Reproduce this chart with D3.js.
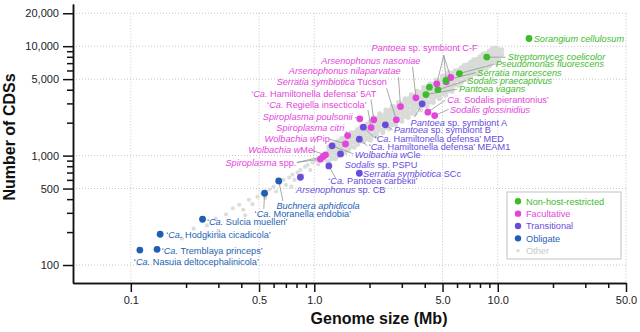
<!DOCTYPE html>
<html>
<head>
<meta charset="utf-8">
<script src="https://cdn.jsdelivr.net/npm/d3@7"></script>
<style>
  body { margin: 0; background: #fff; }
  svg { font-family: "Liberation Sans", Arial, sans-serif; }
</style>
</head>
<body>
<svg id="chart" width="640" height="332"></svg>
<script>
// Categories of lifestyle, in legend order
const groups = ["Non-host-restricted", "Facultative", "Transitional", "Obligate", "Other"];
const groupColors = ["#3dbb2a", "#e444dc", "#6a4cdc", "#1f5fb3", "#d8dbd8"];

// Tick values
const xTicks = [0.1, 0.5, 1, 5, 10, 50];
const xMinor = [0.2, 0.3, 0.4, 0.6, 0.7, 0.8, 0.9, 2, 3, 4, 6, 7, 8, 9, 20, 30, 40];
const yTicks = [100, 500, 1000, 5000, 10000, 20000];
const yMinor = [200, 300, 400, 600, 700, 800, 900, 2000, 3000, 4000, 6000, 7000, 8000, 9000];

// Highlighted genomes: key, genome size (Mb), number of CDSs, group index
const hostKey = ["cf", "cf", "cf", "anas", "anil", "tucson", "h5at", "regiella", "poulsonii", "citri",
  "wpip", "wmel", "spp", "spp", "spier", "sgloss",
  "pantA", "pantB", "med", "meam1", "wcle", "pspu", "scc", "carbekii", "arscb",
  "buchnera", "moranella", "sulcia", "hodgkinia", "tremblaya", "nasuia",
  "sorangium", "strepto", "pseudo", "smarc", "spraec", "pvagans", "green7"];
const hostSize = [4.65, 5.235, 5.54, 3.58, 2.95, 2.80, 2.11, 2.04, 1.77, 1.52,
  1.48, 1.151, 1.08, 1.118, 4.16, 4.53,
  3.87, 2.44, 1.85, 1.76, 1.25, 1.39, 1.76, 1.20, 0.84,
  0.64, 0.536, 0.246, 0.1445, 0.139, 0.112,
  14.8, 8.71, 6.18, 5.22, 4.72, 4.06, 4.24];
const hostCds = [4529, 4723, 5172, 3373, 2808, 2122, 2122, 1805, 2167, 1524,
  1279, 1016, 927, 979, 2495, 2323,
  2972, 1910, 1820, 1413, 1228, 1036, 690, 805, 634,
  587, 453, 262, 191, 139, 137,
  11760, 7950, 5625, 4876, 3990, 3614, 4224];
const hostGroup = [1, 1, 1, 1, 1, 1, 1, 1, 1, 1,
  1, 1, 1, 1, 1, 1,
  2, 2, 2, 2, 2, 2, 2, 2, 2,
  3, 3, 3, 3, 3, 3,
  0, 0, 0, 0, 0, 0, 0];

// Label texts (_..._ marks italic)
const labelText = {
  sorangium: "_Sorangium cellulosum_",
  strepto: "_Streptomyces coelicolor_",
  pseudo: "_Pseudomonas fluorescens_",
  smarc: "_Serratia marcescens_",
  spraec: "_Sodalis praecaptivus_",
  pvagans: "_Pantoea vagans_",
  cf: "_Pantoea_ sp. symbiont C-F",
  anas: "_Arsenophonus nasoniae_",
  anil: "_Arsenophonus nilaparvatae_",
  tucson: "_Serratia symbiotica_ Tucson",
  h5at: "‘_Ca._ Hamiltonella defensa’ 5AT",
  regiella: "‘_Ca._ Regiella insecticola’",
  poulsonii: "_Spiroplasma poulsonii_",
  citri: "_Spiroplasma citri_",
  wpip: "_Wolbachia w_Pip",
  wmel: "_Wolbachia w_Mel",
  spp: "_Spiroplasma_ spp.",
  spier: "_Ca._ Sodalis pierantonius’",
  sgloss: "_Sodalis glossinidius_",
  pantA: "_Pantoea_ sp. symbiont A",
  pantB: "_Pantoea_ sp. symbiont B",
  med: "‘_Ca._ Hamiltonella defensa’ MED",
  meam1: "‘_Ca._ Hamiltonella defensa’ MEAM1",
  wcle: "_Wolbachia w_Cle",
  pspu: "_Sodalis_ sp. PSPU",
  scc: "_Serratia symbiotica_ SCc",
  carbekii: "‘_Ca._ Pantoea carbekii’",
  arscb: "_Arsenophonus_ sp. CB",
  buchnera: "_Buchnera aphidicola_",
  moranella: "‘_Ca._ Moranella endobia’",
  sulcia: "‘_Ca._ Sulcia muelleri’",
  hodgkinia: "‘_Ca._ Hodgkinia cicadicola’",
  tremblaya: "‘_Ca._ Tremblaya princeps’",
  nasuia: "‘_Ca._ Nasuia deltocephalinicola’"
};

// "Other" genomes, sparse small ones: [size Mb, CDSs]
const otherSparse = [[0.19,175],[0.22,215],[0.26,230],[0.29,265],[0.30,205],[0.33,290],[0.36,330],
  [0.39,355],[0.41,320],[0.42,285],[0.44,395],[0.46,360],[0.49,420],[0.52,455],[0.54,410],
  [0.57,490],[0.60,520],[0.62,470],[0.65,560],[0.68,600],[0.70,540],[0.73,630],[0.75,520],
  [0.76,670],[0.78,600],[0.81,700],[0.84,740],[0.86,660],[0.89,790],[0.92,820],[0.95,740],
  [0.98,860],[1.02,900],[1.05,830],[1.09,950],[1.13,990],[1.16,900]];
// "Other" genomes in the dense band: [size Mb, CDSs of genomes of about that size...]
const otherBand = [
  [1.20,888,996,1098,1200],[1.25,950,1056,1163,1269],[1.30,943,1053,1170,1281],
  [1.35,999,1121,1235,1350],[1.41,1072,1191,1311,1431],[1.47,1066,1191,1323,1448],
  [1.53,1132,1270,1400,1530],[1.59,1208,1344,1479,1614],[1.65,1196,1337,1485,1625],
  [1.72,1273,1428,1574,1720],[1.79,1360,1513,1665,1817],[1.86,1349,1507,1674,1832],
  [1.94,1436,1610,1775,1940],[2.02,1390,1535,1707,1879,2050],[2.10,1523,1701,1890,2069,2226],
  [2.18,1504,1613,1809,1995,2180],[2.27,1725,1918,2111,2304,2406],[2.36,1628,1711,1912,2124,2325],
  [2.46,1820,2042,2251,2460,2608],[2.56,1766,1946,2163,2381,2598],[2.66,1929,2155,2394,2620,2820],
  [2.77,1911,2050,2299,2535,2770],[2.88,2189,2434,2678,2923,3053],[3.00,2070,2175,2430,2700,2955],
  [3.12,2309,2590,2855,3120,3307],[3.25,2243,2470,2746,3023,3299],[3.38,2451,2738,3042,3329,3583],
  [3.51,2422,2597,2913,3212,3510],[3.65,2774,3084,3395,3705,3869],[3.80,2622,2755,3078,3420,3743],
  [3.95,2923,3279,3614,3950,4187],[4.11,2836,3124,3473,3822,4172],[4.28,3103,3467,3852,4216,4537],
  [4.45,3071,3293,3694,4072,4450],[4.63,3519,3912,4306,4699,4908],[4.81,3319,3487,3896,4329,4738],
  [5.00,3700,4150,4575,5000,5300],[5.20,3588,3952,4394,4836,5278],[5.41,3922,4382,4869,5329,5735],
  [5.63,3885,4166,4673,5151,5630],[5.85,4446,4943,5441,5938],[6.09,4415,4933,5481,5999],
  [6.33,4684,5254,5792,6330],[6.58,5001,5560,6119,6679],[6.85,4966,5549,6165,6747],
  [7.12,5269,5910,6515,7120],[7.41,5632,6261,6891,7521],[7.70,5583,6237,6930,7585],
  [8.01,5927,6648,7329,8010],[8.33,6331,7039,7747,8455],[8.67,6286,7023,7803,8540],
  [9.01,6667,7478,8244,9010],[9.37,7121,7918,8714,9511],[9.75,7069,7898,8775,9604],
  [10.1,7474,8383,9242],[10.5,8400,9240]];

// Label placement: [text dx, text dy, leader dx, leader dy] from the key's first point (px)
const labelPos = {
  sorangium: [4.7, 3.3], strepto: [21, 3.2, 19, 0.2], pseudo: [36.3, -6.2, 34.3, -9.2],
  smarc: [31.4, -4.5, 29.7, -7.7], spraec: [29.4, -6, 27.7, -9.2], pvagans: [33, -2.2, 31.2, -5.4],
  cf: [-65.3, -32.5, 7, -28.5], anas: [-94.6, -34.2, -3.3, -31], anil: [-111.7, -32.2, -2, -29.2],
  tucson: [-119.7, -34.5, -9.7, -31.5], h5at: [-122.6, -23.2, -2.8, -20.5],
  regiella: [-104, -19.2, -3.2, -17.7], poulsonii: [-97, 1.2, -4.8, -1.5],
  citri: [-71.3, -4.9, -1.8, -4.7], wpip: [-81, -2.2, -16.8, -5], wmel: [-77.3, -1.8, -13.5, -4.5],
  spp: [-95, 6.5, -23.5, 3.2], spier: [19.4, -8.8, 17.7, -12.3], sgloss: [15.3, -2.9, 14, -6.2],
  pantA: [-11.5, 22.2, -7.5, 13.5], pantB: [8.6, 8.5, 7.3, 5], med: [11.3, 14.5, 10.3, 9.7],
  meam1: [9.3, 10.7, 8, 6.7], wcle: [22.6, 12.5, 21.3, 8], pspu: [4.3, 13.8], scc: [3.7, 3.5],
  carbekii: [-0.6, 18.5, 6.7, 12], arscb: [-4.3, 15.5], buchnera: [-2.3, 28.2, 4.2, 20],
  moranella: [-10, 23.5, -0.8, 15.7], sulcia: [4.4, 5.9], hodgkinia: [6, 3.5],
  tremblaya: [4.6, 4.2], nasuia: [-6, 15]
};

const svg = d3.select("#chart");
const plotLeft = 73, plotRight = 626, plotTop = 4, plotBottom = 283;

const x = d3.scaleLog().domain([0.0484, 50]).range([plotLeft, plotRight]);
const y = d3.scaleLog().domain([68.5, 24300]).range([plotBottom, plotTop]);

// dotted grid
svg.append("g").selectAll("line").data(yTicks).join("line")
  .attr("x1", plotLeft).attr("x2", plotRight)
  .attr("y1", d => y(d)).attr("y2", d => y(d))
  .attr("stroke", "#c6c6c6").attr("stroke-dasharray", "1,2");
svg.append("g").selectAll("line").data(xTicks).join("line")
  .attr("x1", d => x(d)).attr("x2", d => x(d))
  .attr("y1", y(20000)).attr("y2", plotBottom)
  .attr("stroke", "#c6c6c6").attr("stroke-dasharray", "1,2");

// axes
function styleAxis(g) {
  g.attr("font-family", "Liberation Sans, Arial, sans-serif").attr("font-size", 11);
  g.selectAll("path, line").attr("stroke", "#111").attr("stroke-width", 1.5);
  g.selectAll("text").attr("fill", "#222");
}
svg.append("g").attr("transform", "translate(0," + plotBottom + ")")
  .call(d3.axisBottom(x).tickValues(xMinor).tickSize(5).tickSizeOuter(0).tickFormat(""))
  .call(styleAxis);
svg.append("g").attr("transform", "translate(0," + plotBottom + ")")
  .call(d3.axisBottom(x).tickValues(xTicks).tickSize(9).tickSizeOuter(0).tickPadding(4)
    .tickFormat(d3.format(".1f")))
  .call(styleAxis);
svg.append("g").attr("transform", "translate(" + plotLeft + ",0)")
  .call(d3.axisLeft(y).tickValues(yMinor).tickSize(6).tickSizeOuter(0).tickFormat(""))
  .call(styleAxis);
svg.append("g").attr("transform", "translate(" + plotLeft + ",0)")
  .call(d3.axisLeft(y).tickValues(yTicks).tickSize(10).tickSizeOuter(0).tickPadding(4)
    .tickFormat(d3.format(",")))
  .call(styleAxis);

// axis titles
svg.append("text").attr("x", 379).attr("y", 324).attr("text-anchor", "middle")
  .attr("font-size", 16).attr("font-weight", "bold").attr("fill", "#111")
  .text("Genome size (Mb)");
svg.append("text").attr("transform", "translate(15,137) rotate(-90)").attr("text-anchor", "middle")
  .attr("font-size", 16).attr("font-weight", "bold").attr("fill", "#111")
  .text("Number of CDSs");

// other genomes
const others = otherBand.flatMap(r => r.slice(1).map(c => [r[0], c]));
svg.append("g").selectAll("circle").data(otherSparse).join("circle")
  .attr("cx", d => x(d[0])).attr("cy", d => y(d[1])).attr("r", 2.1)
  .attr("fill", "#dcdedc");
svg.append("g").selectAll("circle").data(others).join("circle")
  .attr("cx", d => x(d[0])).attr("cy", d => y(d[1])).attr("r", 2.6)
  .attr("fill", groupColors[4]);

// labels and leader lines
const firstIdx = {};
hostKey.forEach((k, i) => { if (!(k in firstIdx)) firstIdx[k] = i; });

const leaders = svg.append("g");
const labels = svg.append("g").attr("font-size", 9.2);
Object.keys(labelText).forEach(k => {
  const i = firstIdx[k];
  const px = x(hostSize[i]), py = y(hostCds[i]);
  const p = labelPos[k];
  if (p.length > 2) {
    hostKey.forEach((kk, j) => {
      if (kk !== k) return;
      leaders.append("line")
        .attr("x1", px + p[2]).attr("y1", py + p[3])
        .attr("x2", x(hostSize[j])).attr("y2", y(hostCds[j]))
        .attr("stroke", "#8f978f").attr("stroke-width", 0.8);
    });
  }
  const t = labels.append("text").attr("x", px + p[0]).attr("y", py + p[1])
    .attr("fill", groupColors[hostGroup[i]]);
  labelText[k].split("_").forEach((s, n) => {
    if (s === "") return;
    t.append("tspan").attr("font-style", n % 2 ? "italic" : "normal").text(s);
  });
});

// highlighted points: facultative, transitional, obligate, then non-host-restricted on top
const drawOrder = d3.range(hostKey.length).sort((a, b) => {
  const ra = hostGroup[a] === 0 ? 9 : hostGroup[a];
  const rb = hostGroup[b] === 0 ? 9 : hostGroup[b];
  return ra - rb || a - b;
});
svg.append("g").selectAll("circle").data(drawOrder).join("circle")
  .attr("cx", i => x(hostSize[i])).attr("cy", i => y(hostCds[i])).attr("r", 3.4)
  .attr("fill", i => groupColors[hostGroup[i]]);

// legend
const legend = svg.append("g");
legend.append("rect").attr("x", 507).attr("y", 192).attr("width", 114).attr("height", 67)
  .attr("fill", "#fff").attr("stroke", "#c9cfc9").attr("stroke-width", 1.2);
groups.forEach((g, i) => {
  const cy = 201.3 + i * 12.35;
  legend.append("circle").attr("cx", 518).attr("cy", cy).attr("r", i === 4 ? 1.6 : 3.2)
    .attr("fill", i === 4 ? "#d9d9d9" : groupColors[i]);
  legend.append("text").attr("x", 526).attr("y", cy + 3.3).attr("font-size", 9.2)
    .attr("fill", i === 4 ? "#c8c8c8" : groupColors[i]).text(g);
});
</script>
</body>
</html>
